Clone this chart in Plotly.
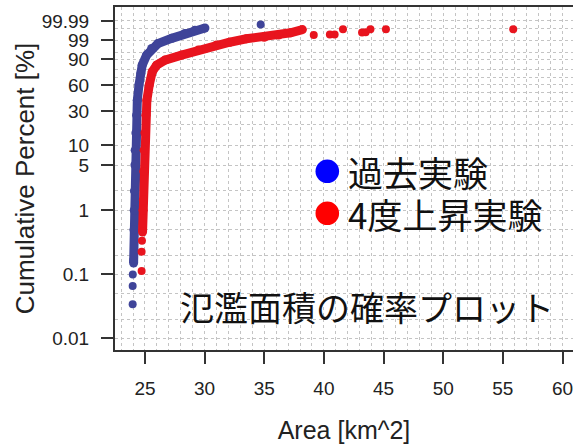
import numpy as np
import plotly.graph_objects as go

# ---------------- data ----------------
# past experiment (blue): dense main curve
blue_area = [24.05, 24.08, 24.10, 24.12, 24.16, 24.18, 24.24, 24.30, 24.36, 24.50,
             24.65, 24.77, 25.14, 25.56, 26.09, 27.24, 28.35, 29.19, 30.03]
blue_pct = [0.15, 0.5, 1.0, 2.0, 5.0, 8.4, 15, 26.6, 41, 59.8,
            75, 84.6, 93.2, 96.7, 98.3, 99.26, 99.71, 99.86, 99.92]
# past experiment: isolated points in the tails
blue_tail_area = [24.02, 23.98, 23.97, 23.97, 34.70]
blue_tail_pct = [0.167, 0.10, 0.066, 0.034, 99.97]

# +4 degree experiment (red): dense main curve
red_area = [24.80, 24.84, 24.86, 24.90, 24.93, 25.00, 25.08, 25.16, 25.36, 25.61,
            25.98, 26.68, 28.07, 29.47, 31.0, 32.1, 33.5, 35.0, 36.2, 37.2, 38.2]
red_pct = [0.46, 1.0, 1.44, 4.0, 8.4, 15, 26.6, 41, 59.8, 77.1,
           84.6, 89.4, 93.2, 96.0, 97.9, 98.6, 99.2, 99.4, 99.6, 99.75, 99.88]
# +4 degree experiment: isolated points in the tails
red_tail_area = [24.72, 24.72, 24.75, 39.15, 40.5, 40.9, 41.6, 43.2, 43.5, 43.9, 45.2, 55.87]
red_tail_pct = [0.113, 0.226, 0.336, 99.60, 99.65, 99.65, 99.89, 99.77, 99.78, 99.89, 99.89, 99.89]

y_tick_labels = ["0.01", "0.1", "1", "5", "10", "30", "60", "90", "99", "99.99"]
y_minor_pct = [0.02, 0.05, 0.2, 0.5, 2, 20, 40, 50, 70, 80, 95, 99.9]
x_tick_vals = [25, 30, 35, 40, 45, 50, 55, 60]


def wscale(p):
    """Weibull probability-paper transform of a percentage."""
    p = np.asarray(p, dtype=float) / 100.0
    return np.log(-np.log(1.0 - p))


BLUE = "#3f4499"
RED = "#e8141e"

fig = go.Figure()
fig.add_trace(go.Scatter(x=blue_area, y=wscale(blue_pct), mode="lines+markers",
                         line=dict(color=BLUE, width=9), marker=dict(color=BLUE, size=9),
                         showlegend=False, hoverinfo="skip"))
fig.add_trace(go.Scatter(x=blue_tail_area, y=wscale(blue_tail_pct), mode="markers",
                         marker=dict(color=BLUE, size=8), showlegend=False, hoverinfo="skip"))
fig.add_trace(go.Scatter(x=red_area, y=wscale(red_pct), mode="lines+markers",
                         line=dict(color=RED, width=9), marker=dict(color=RED, size=9),
                         showlegend=False, hoverinfo="skip"))
fig.add_trace(go.Scatter(x=red_tail_area, y=wscale(red_tail_pct), mode="markers",
                         marker=dict(color=RED, size=8), showlegend=False, hoverinfo="skip"))

AX = "#333333"
TXT = "#222222"
fig.update_layout(
    width=573, height=446,
    margin=dict(l=115, r=0, t=7, b=96),
    paper_bgcolor="white", plot_bgcolor="white",
    font=dict(family="Liberation Sans, Arial, sans-serif", color=TXT),
    xaxis=dict(
        range=[22.49, 60.88], tickmode="array", tickvals=x_tick_vals,
        ticktext=[str(v) for v in x_tick_vals], automargin=False,
        ticks="outside", ticklen=12, tickwidth=1.5, tickcolor=AX,
        showline=True, linecolor=AX, linewidth=2, mirror=True,
        tickfont=dict(size=19, color=TXT), ticklabelstandoff=8,
        ticklabeloverflow="allow",
        showgrid=False, zeroline=False,
        minor=dict(dtick=1, tick0=0, showgrid=True, gridcolor="#c4c4c4",
                   griddash="dot", gridwidth=1, ticks=""),
        title=dict(text="Area [km^2]", font=dict(size=25, color=TXT), standoff=24),
    ),
    yaxis=dict(
        range=[-9.63, 2.72], tickmode="array", automargin=False,
        tickvals=wscale([float(t) for t in y_tick_labels]), ticktext=y_tick_labels,
        ticks="outside", ticklen=12, tickwidth=1.5, tickcolor=AX,
        showline=True, linecolor=AX, linewidth=2, mirror=False,
        tickfont=dict(size=19, color=TXT), ticklabelstandoff=8,
        showgrid=True, gridcolor="#c4c4c4", griddash="dot", gridwidth=1,
        zeroline=False,
        minor=dict(tickmode="array", tickvals=wscale(y_minor_pct), showgrid=True,
                   gridcolor="#c4c4c4", griddash="dot", gridwidth=1, ticks=""),
        title=dict(text="Cumulative Percent [%]", font=dict(size=26, color=TXT), standoff=0),
    ),
)

# legend drawn as in the picture: big dots + text
def px2paper(px, py):
    return (px - 115) / 458.0, (350 - py) / 343.0

for cy, col in [(171.3, "#0000ff"), (213.3, "#ff0000")]:
    x0, y0 = px2paper(327.3 - 11.8, cy + 11.8)
    x1, y1 = px2paper(327.3 + 11.8, cy - 11.8)
    fig.add_shape(type="circle", xref="paper", yref="paper", x0=x0, y0=y0, x1=x1, y1=y1,
                  fillcolor=col, line=dict(width=0))

CJK = "Noto Sans CJK JP"
for py, txt in [(171.3, "過去実験"), (213.3, "4度上昇実験")]:
    ax, ay = px2paper(346, py)
    fig.add_annotation(x=ax, y=ay, xref="paper", yref="paper", text=txt, showarrow=False,
                       xanchor="left", yanchor="middle",
                       font=dict(family=CJK, size=35, color="#111111"))

tx, ty = px2paper(178, 306.5)
fig.add_annotation(x=tx, y=ty, xref="paper", yref="paper", text="氾濫面積の確率プロット",
                   showarrow=False, xanchor="left", yanchor="middle",
                   font=dict(family=CJK, size=34, color="#111111"))

# remove the browser's default 8px page margin so the figure sits at the window origin
fig.write_html("out.html", config={"displayModeBar": False},
               post_script="document.body.style.margin='0px';")
